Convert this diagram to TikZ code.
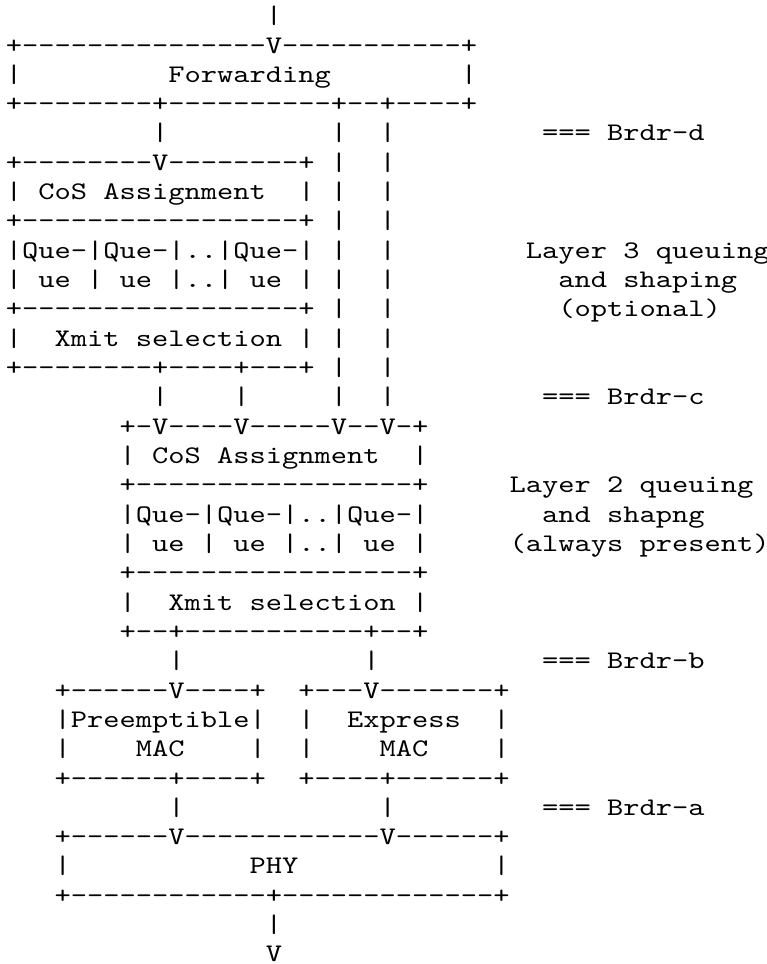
\documentclass[tikz,border=0pt]{standalone}
\usepackage{fontspec}
\setmonofont{lmmono10-regular.otf}[FakeStretch=1.222]

\begin{document}
\begin{tikzpicture}[x=12.1875pt, y=-21.99pt,
   font=\ttfamily\fontsize{19pt}{22pt}\selectfont,
   row/.style={anchor=base west, inner sep=0pt, outer sep=0pt}]
   % one column = one character, one unit down = one text line
   \useasboundingbox (-0.3615,0.192) rectangle (46.78,33.07);

   % forwarding
   \node[row] (r1) at (16,1) {|};
   \node[row] (r2) at (0,2) {+---------------V-----------+};
   \node[row] (fwd) at (0,3) {|~~~~~~~~~Forwarding~~~~~~~~|};
   \node[row] (r4) at (0,4) {+--------+----------+--+----+};
   \node[row] (r5) at (9,5) {|~~~~~~~~~~|~~|};

   % layer 3 queuing block
   \node[row] (r6) at (0,6) {+--------V--------+~|~~|};
   \node[row] (cos3) at (0,7) {|~CoS~Assignment~~|~|~~|};
   \node[row] (r8) at (0,8) {+-----------------+~|~~|};
   \node[row] (que3a) at (0,9) {|Que-|Que-|..|Que-|~|~~|};
   \node[row] (que3b) at (0,10) {|~ue~|~ue~|..|~ue~|~|~~|};
   \node[row] (r11) at (0,11) {+-----------------+~|~~|};
   \node[row] (xmit3) at (0,12) {|~~Xmit~selection~|~|~~|};
   \node[row] (r13) at (0,13) {+--------+----+---+~|~~|};
   \node[row] (r14) at (9,14) {|~~~~|~~~~~|~~|};

   % layer 2 queuing block
   \node[row] (r15) at (7,15) {+-V----V-----V--V-+};
   \node[row] (cos2) at (7,16) {|~CoS~Assignment~~|};
   \node[row] (r17) at (7,17) {+-----------------+};
   \node[row] (que2a) at (7,18) {|Que-|Que-|..|Que-|};
   \node[row] (que2b) at (7,19) {|~ue~|~ue~|..|~ue~|};
   \node[row] (r20) at (7,20) {+-----------------+};
   \node[row] (xmit2) at (7,21) {|~~Xmit~selection~|};
   \node[row] (r22) at (7,22) {+--+-----------+--+};
   \node[row] (r23) at (10,23) {|~~~~~~~~~~~|};

   % MACs and PHY
   \node[row] (r24) at (3,24) {+------V----+~~+---V-------+};
   \node[row] (mac1) at (3,25) {|Preemptible|~~|~~Express~~|};
   \node[row] (mac2) at (3,26) {|~~~~MAC~~~~|~~|~~~~MAC~~~~|};
   \node[row] (r27) at (3,27) {+------+----+~~+----+------+};
   \node[row] (r28) at (10,28) {|~~~~~~~~~~~~|};
   \node[row] (r29) at (3,29) {+------V------------V------+};
   \node[row] (phy) at (3,30) {|~~~~~~~~~~~PHY~~~~~~~~~~~~|};
   \node[row] (r31) at (3,31) {+------------+-------------+};
   \node[row] (r32) at (16,32) {|};
   \node[row] (r33) at (16,33) {V};

   % borders and layer notes on the right
   \node[row] (brdrd) at (33,5) {===~Brdr-d};
   \node[row] (lthree) at (32,9) {Layer~3~queuing};
   \node[row] (lthreeb) at (34,10) {and~shaping};
   \node[row] (lthreec) at (34,11) {(optional)};
   \node[row] (brdrc) at (33,14) {===~Brdr-c};
   \node[row] (ltwo) at (31,17) {Layer~2~queuing};
   \node[row] (ltwob) at (33,18) {and~shapng};
   \node[row] (ltwoc) at (31,19) {(always~present)};
   \node[row] (brdrb) at (33,23) {===~Brdr-b};
   \node[row] (brdra) at (33,28) {===~Brdr-a};
\end{tikzpicture}
\end{document}
